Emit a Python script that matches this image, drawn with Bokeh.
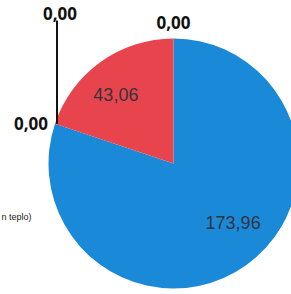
import numpy as np
from bokeh.plotting import figure
from bokeh.models import Range1d, ColumnDataSource
from bokeh.core.properties import value
from bokeh.embed import file_html
from bokeh.resources import INLINE

# ---- data ----
values = [173.96, 0.0, 0.0, 43.06, 0.0]
colors = ["#1a8ad8", "#1a8ad8", "#e8444e", "#e8444e", "#e8444e"]
legend_fragment = "n teplo)"

labels = [f"{v:.2f}".replace(".", ",") for v in values]

# ---- geometry (styling) ----
W, H = 291, 294
cx, cy, R = 173, 131, 125

vals = np.array(values)
frac = vals / vals.sum()
cum = np.concatenate([[0], np.cumsum(frac)])
start = np.deg2rad(90 - cum[:-1] * 360)
end = np.deg2rad(90 - cum[1:] * 360)
mid = (start + end) / 2

p = figure(width=W, height=H, x_range=Range1d(0, W), y_range=Range1d(0, H),
           output_backend="svg", toolbar_location=None, min_border=0)
p.axis.visible = False
p.grid.visible = False
p.outline_line_color = None
p.background_fill_color = "white"
p.border_fill_color = "white"

nz = [i for i, v in enumerate(values) if v > 0]
src = ColumnDataSource(dict(start=start[nz], end=end[nz], color=[colors[i] for i in nz]))
p.wedge(x=cx, y=cy, radius=R, start_angle="start", end_angle="end",
        direction="clock", fill_color="color", line_color=None, source=src)

# inside labels for non-zero slices
off = {0: (10, -10), 3: (-8, 0)}
for i in nz:
    x = cx + 0.68 * R * np.cos(mid[i])
    y = cy + 0.68 * R * np.sin(mid[i])
    p.text(x=[x], y=[y], text=[labels[i]], text_align="center", text_baseline="middle",
           text_font=value("Liberation Sans"), text_font_size="18px",
           text_color="#33343c", x_offset=off[i][0], y_offset=off[i][1])

# zero labels
ex = cx + R * np.cos(mid)
ey = cy + R * np.sin(mid)
zfont = dict(text_font=value("Open Sans"), text_font_size="17px",
             text_font_style="bold", text_color="#111111")
# slice 1: to the left of its edge point
p.text(x=[ex[1]], y=[ey[1]], text=[labels[1]], text_align="right",
       text_baseline="middle", x_offset=-7, **zfont)
# slice 2: leader line upward
leader_top = 274
p.line(x=[ex[2] + 2, ex[2] + 2], y=[ey[2], leader_top], line_color="#111111", line_width=2)
p.text(x=[ex[2] + 5], y=[leader_top], text=[labels[2]], text_align="center",
       text_baseline="bottom", y_offset=-1, **zfont)
# slice 4: above top of pie
p.text(x=[ex[4]], y=[ey[4]], text=[labels[4]], text_align="center",
       text_baseline="middle", y_offset=-16, **zfont)

# legend fragment (cut off on the left)
p.text(x=[31], y=[78], text=[legend_fragment], text_align="right", text_baseline="middle",
       text_font=value("Liberation Sans"), text_font_size="9px", text_color="#222222")

open("out.html", "w").write(file_html(p, INLINE))
